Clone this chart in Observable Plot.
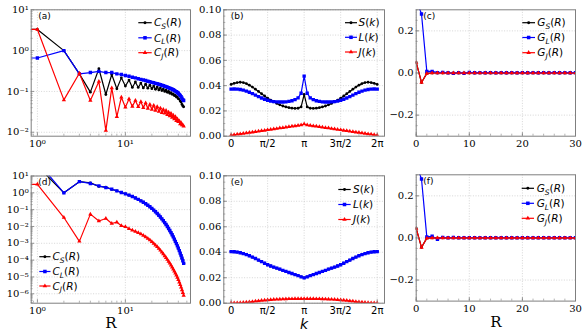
<!DOCTYPE html>
<html><head><meta charset="utf-8">
<script src="https://cdn.jsdelivr.net/npm/d3@7"></script>
<script src="https://cdn.jsdelivr.net/npm/@observablehq/plot@0.6"></script>
<style>
body{margin:0;background:#fff}
#wrap{position:relative;width:586px;height:334px;overflow:hidden;background:#fff}
#wrap > svg{position:absolute;left:0;top:0}
</style></head>
<body><div id="wrap"></div>
<script>
// ---------- data ----------
const R = [0,1,2,3,4,5,6,7,8,9,10,11,12,13,14,15,16,17,18,19,20,21,22,23,24,25,26,27,28,29,30,31,32,33,34,35,36,37,38,39,40,41,42,43,44,45,46];

// panel (a)
const CS_a = [3.3,3.3,1.0,0.27,0.096,0.36,0.084,0.26,0.116,0.215,0.135,0.19,0.125,0.17,0.125,0.16,0.122,0.15,0.12,0.142,0.117,0.135,0.113,0.128,0.109,0.121,0.105,0.114,0.1,0.107,0.095,0.1,0.09,0.093,0.085,0.087,0.079,0.08,0.073,0.073,0.066,0.065,0.058,0.055,0.048,0.044,0.042];
const CL_a = [0.66,0.66,1.0,0.27,0.29,0.31,0.29,0.29,0.27,0.26,0.245,0.235,0.222,0.215,0.205,0.198,0.19,0.185,0.178,0.173,0.167,0.163,0.158,0.154,0.15,0.146,0.142,0.138,0.134,0.131,0.127,0.124,0.12,0.117,0.113,0.11,0.106,0.102,0.098,0.094,0.09,0.085,0.08,0.074,0.068,0.063,0.06];
const CJ_a = [3.3,3.3,0.062,0.28,0.06,0.175,0.011,0.122,0.024,0.072,0.041,0.065,0.043,0.06,0.042,0.056,0.04,0.052,0.038,0.048,0.036,0.045,0.034,0.042,0.032,0.039,0.03,0.036,0.029,0.034,0.027,0.031,0.025,0.029,0.023,0.026,0.021,0.024,0.019,0.021,0.018,0.019,0.016,0.017,0.015,0.015,0.014];

// panel (d)
const CS_d = [40,40,1.0,4.6,3.9,2.4,2.2,1.6,1.32,1.05,0.871,0.724,0.603,0.495,0.407,0.335,0.275,0.224,0.182,0.148,0.119,0.0944,0.0746,0.0589,0.0462,0.0363,0.0282,0.0219,0.0169,0.013,0.01,0.00759,0.00573,0.00431,0.00322,0.0024,0.00178,0.00131,0.000964,0.000705,0.000513,0.000367,0.000262,0.000186,0.000131,0.0000923,0.0000646];
const CL_d = [70,70,1.0,4.6,3.6,2.6,2.05,1.65,1.3,1.05,0.871,0.724,0.603,0.495,0.407,0.335,0.275,0.224,0.182,0.148,0.119,0.0944,0.0746,0.0589,0.0462,0.0363,0.0282,0.0219,0.0169,0.013,0.01,0.00759,0.00573,0.00431,0.00322,0.0024,0.00178,0.00131,0.000964,0.000705,0.000513,0.000367,0.000262,0.000186,0.000131,0.0000923,0.0000646];
const CJ_d = [3.2,3.2,0.034,0.0013,0.054,0.021,0.03,0.015,0.018,0.011,0.0095,0.00724,0.00603,0.00501,0.00427,0.00355,0.00295,0.0024,0.00195,0.00155,0.00123,0.000977,0.000776,0.000617,0.00049,0.00038,0.000295,0.000229,0.000178,0.000138,0.000107,0.0000832,0.0000646,0.0000501,0.000038,0.0000288,0.0000219,0.0000166,0.0000126,0.00000933,0.00000692,0.0000049,0.00000347,0.0000024,0.00000166,0.00000115,0.000000794];

// panel (c)
const GS_c = [0.05,-0.045,-0.002,0,0,0,0,0,0,0,0,0,0,0,0,0,0,0,0,0,0,0,0,0,0,0,0,0,0,0,0,0,0,0,0,0,0,0,0,0,0,0,0,0,0,0,0];
const GL_c = [0.35,0.28,0.008,0.008,0.002,0.003,0.001,-0.002,0.002,-0.002,0.003,0.001,0.002,0.001,0.002,0.001,0.002,0.001,0.002,0.001,0.002,0.001,0.002,0.001,0.002,0.001,0.002,0.001,0.002,0.001,0.002,0.001,0.001,0.001,0.001,0.001,0.001,0.001,0.001,0.001,0.001,0.001,0.001,0.001,0.001,0.001,0.001];
const GJ_c = [0.05,-0.045,-0.002,0,0,0,0,0,0,0,0,0,0,0,0,0,0,0,0,0,0,0,0,0,0,0,0,0,0,0,0,0,0,0,0,0,0,0,0,0,0,0,0,0,0,0,0];

// panel (f)
const GS_f = [0.045,-0.045,-0.001,0,0,0,0,0,0,0,0,0,0,0,0,0,0,0,0,0,0,0,0,0,0,0,0,0,0,0,0,0,0,0,0,0,0,0,0,0,0,0,0,0,0,0,0];
const GL_f = [0.35,0.28,0.005,0.008,-0.006,0.003,0.001,0.002,0.001,0.001,0.001,0.001,0.001,0.001,0.001,0.001,0.001,0.001,0.001,0.001,0.001,0.001,0.001,0.001,0.001,0.001,0.001,0.001,0.001,0.001,0.001,0.001,0.001,0.001,0.001,0.001,0.001,0.001,0.001,0.001,0.001,0.001,0.001,0.001,0.001,0.001,0.001];
const GJ_f = [0.045,-0.045,-0.001,0,0,0,0,0,0,0,0,0,0,0,0,0,0,0,0,0,0,0,0,0,0,0,0,0,0,0,0,0,0,0,0,0,0,0,0,0,0,0,0,0,0,0,0];

// k grid (radians)
const K = [0,0.1309,0.2618,0.3927,0.5236,0.6545,0.7854,0.9163,1.0472,1.1781,1.309,1.4399,1.5708,1.7017,1.8326,1.9635,2.0944,2.2253,2.3562,2.4871,2.618,2.7489,2.8798,3.0107,3.1416,3.2725,3.4034,3.5343,3.6652,3.7961,3.927,4.0579,4.1888,4.3197,4.4506,4.5815,4.7124,4.8433,4.9742,5.1051,5.236,5.3669,5.4978,5.6287,5.7596,5.8905,6.0214,6.1523,6.2832];

// panel (b)
const S_b = [0.041,0.0418,0.0424,0.0427,0.0424,0.0416,0.0404,0.0389,0.0372,0.0354,0.0336,0.0318,0.0301,0.0286,0.0272,0.0259,0.0248,0.0239,0.0232,0.0226,0.0222,0.022,0.0221,0.0232,0.033,0.0232,0.0221,0.022,0.0222,0.0226,0.0232,0.0239,0.0248,0.0259,0.0272,0.0286,0.0301,0.0318,0.0336,0.0354,0.0372,0.0389,0.0404,0.0416,0.0424,0.0427,0.0424,0.0418,0.041];
const L_b = [0.0372,0.0373,0.0372,0.0369,0.0364,0.0357,0.0348,0.0337,0.0325,0.0313,0.0302,0.0292,0.0284,0.0278,0.0274,0.0272,0.0271,0.0271,0.0272,0.0275,0.028,0.0289,0.0303,0.034,0.0475,0.034,0.0303,0.0289,0.028,0.0275,0.0272,0.0271,0.0271,0.0272,0.0274,0.0278,0.0284,0.0292,0.0302,0.0313,0.0325,0.0337,0.0348,0.0357,0.0364,0.0369,0.0372,0.0373,0.0372];
const J_b = [0.0008,0.0011,0.0015,0.0018,0.0022,0.0025,0.0029,0.0032,0.0036,0.0039,0.0043,0.0046,0.005,0.0053,0.0057,0.006,0.0064,0.0067,0.0071,0.0074,0.0078,0.0081,0.0085,0.0088,0.0096,0.0088,0.0085,0.0081,0.0078,0.0074,0.0071,0.0067,0.0064,0.006,0.0057,0.0053,0.005,0.0046,0.0043,0.0039,0.0036,0.0032,0.0029,0.0025,0.0022,0.0018,0.0015,0.0011,0.0008];

// panel (e)
const S_e = [0.0405,0.0404,0.0401,0.0396,0.0389,0.0381,0.0372,0.0362,0.0351,0.0338,0.0326,0.0314,0.0302,0.0292,0.0283,0.0275,0.0267,0.0258,0.025,0.0241,0.0233,0.0224,0.0216,0.0207,0.0199,0.0207,0.0216,0.0224,0.0233,0.0241,0.025,0.0258,0.0267,0.0275,0.0283,0.0292,0.0302,0.0314,0.0326,0.0338,0.0351,0.0362,0.0372,0.0381,0.0389,0.0396,0.0401,0.0404,0.0405];
const L_e = [0.0405,0.0404,0.0401,0.0396,0.0389,0.0381,0.0372,0.0362,0.0351,0.0338,0.0326,0.0314,0.0302,0.0292,0.0283,0.0275,0.0267,0.0258,0.025,0.0241,0.0233,0.0224,0.0216,0.0207,0.0199,0.0207,0.0216,0.0224,0.0233,0.0241,0.025,0.0258,0.0267,0.0275,0.0283,0.0292,0.0302,0.0314,0.0326,0.0338,0.0351,0.0362,0.0372,0.0381,0.0389,0.0396,0.0401,0.0404,0.0405];
const J_e = [0.0001,0.0001,0.0002,0.0003,0.0005,0.0007,0.0009,0.0012,0.0015,0.0018,0.0021,0.0023,0.0025,0.0027,0.0029,0.003,0.0031,0.0032,0.0033,0.0034,0.0034,0.0035,0.0035,0.0035,0.0035,0.0035,0.0035,0.0035,0.0034,0.0034,0.0033,0.0032,0.0031,0.003,0.0029,0.0027,0.0025,0.0023,0.0021,0.0018,0.0015,0.0012,0.0009,0.0007,0.0005,0.0003,0.0002,0.0001,0.0001];

// tick values / labels
const kTickValues = [0, Math.PI/2, Math.PI, 3*Math.PI/2, 2*Math.PI];
const kTickLabels = ["0", "π/2", "π", "3π/2", "2π"];
const kMinor = [Math.PI/4, 3*Math.PI/4, 5*Math.PI/4, 7*Math.PI/4];
const logXMajor = [1, 10];
const logYMajorA = [0.01, 0.1, 1, 10];
const logYMajorD = [1e-6, 1e-5, 1e-4, 1e-3, 1e-2, 1e-1, 1, 10];
const linYMajorB = [0, 0.02, 0.04, 0.06, 0.08, 0.10];
const linYMajorC = [-0.2, 0, 0.2];
const linXMajorC = [0, 10, 20, 30];

const legendC = [{main:"C",sub:"S",arg:"R"},{main:"C",sub:"L",arg:"R"},{main:"C",sub:"J",arg:"R"}];
const legendK = [{main:"S",sub:"",arg:"k"},{main:"L",sub:"",arg:"k"},{main:"J",sub:"",arg:"k"}];
const legendG = [{main:"G",sub:"S",arg:"R"},{main:"G",sub:"L",arg:"R"},{main:"G",sub:"J",arg:"R"}];

// ---------- styling ----------
const W = 586, H = 334;
const FRAME = "#7f7f7f", GRID = "#c4c4c4";
const COLORS = ["#000000", "#0000ff", "#ff0000"];
const SYMBOLS = ["circle", "square", "triangle"];
const RADII = [1.4, 1.9, 1.6];

const supMap = {"-":"⁻","0":"⁰","1":"¹","2":"²","3":"³","4":"⁴","5":"⁵","6":"⁶","7":"⁷","8":"⁸","9":"⁹"};
const logFmt = d => "10" + String(Math.round(Math.log10(d))).split("").map(c => supMap[c]).join("");
function logMinor(lo, hi) {
  const out = [];
  for (let e = -8; e <= 2; e++) for (let m = 2; m <= 9; m++) { const v = m * Math.pow(10, e); if (v > lo && v < hi) out.push(v); }
  return out;
}
function linMinor(lo, hi, step) {
  const out = []; const n0 = Math.ceil(lo / step - 1e-9), n1 = Math.floor(hi / step + 1e-9);
  for (let n = n0; n <= n1; n++) out.push(+(n * step).toFixed(6));
  return out;
}

function panel(cfg) {
  const [x0, x1, y0, y1] = cfg.frame;
  const iw = x1 - x0, ih = y1 - y0;
  const marks = [
    Plot.gridX(cfg.xMajor, {x: d => d, stroke: GRID, strokeOpacity: 1, strokeDasharray: "1,1.6", strokeWidth: 0.7}),
    Plot.gridY(cfg.yMajor, {y: d => d, stroke: GRID, strokeOpacity: 1, strokeDasharray: "1,1.6", strokeWidth: 0.7})
  ];
  cfg.series.forEach((ys, j) => {
    const xs = cfg.xs;
    marks.push(Plot.line(ys, {x: xs, y: ys, stroke: COLORS[j], strokeWidth: 1.2, clip: true}));
    marks.push(Plot.dot(ys, {x: xs, y: ys, fill: COLORS[j], stroke: "none", symbol: SYMBOLS[j], r: RADII[j], clip: true,
      filter: cfg.logX ? xs.map(v => v > 0) : xs.map(() => true)}));
  });
  marks.push(Plot.frame({stroke: FRAME, strokeWidth: 1}));
  marks.push(Plot.tickX(cfg.xMajor, {x: d => d, insetTop: ih - 3.5, stroke: FRAME, strokeWidth: 0.8}));
  marks.push(Plot.tickX(cfg.xMinor, {x: d => d, insetTop: ih - 2, stroke: FRAME, strokeWidth: 0.6}));
  marks.push(Plot.tickY(cfg.yMajor, {y: d => d, insetRight: iw - 3.5, stroke: FRAME, strokeWidth: 0.8}));
  marks.push(Plot.tickY(cfg.yMinor, {y: d => d, insetRight: iw - 2, stroke: FRAME, strokeWidth: 0.6}));
  marks.push(Plot.axisX(cfg.xMajor, {tickSize: 0, tickPadding: 3.5, tickFormat: cfg.xFmt, label: null,
    fontFamily: cfg.xFont || "DejaVu Serif", fontSize: 10}));
  marks.push(Plot.axisY(cfg.yMajor, {tickSize: 0, tickPadding: 2.5, tickFormat: cfg.yFmt, label: null,
    fontFamily: "DejaVu Serif", fontSize: 10}));
  marks.push(Plot.text([cfg.label], {text: d => d, frameAnchor: "top-left", dx: 7, dy: 6.5, textAnchor: "start",
    lineAnchor: "middle", fontFamily: "DejaVu Sans", fontSize: 9}));
  if (cfg.title) marks.push(Plot.text([cfg.title], {text: d => d, frameAnchor: "bottom", dy: cfg.titleDy, lineAnchor: "middle",
    fontFamily: cfg.titleFont, fontStyle: cfg.titleStyle, fontSize: cfg.titleSize}));
  const svg = Plot.plot({
    width: W, height: H,
    marginLeft: x0, marginRight: W - x1, marginTop: y0, marginBottom: H - y1,
    x: {type: cfg.xType, domain: cfg.xDomain, clamp: !!cfg.logX},
    y: {type: cfg.yType, domain: cfg.yDomain},
    style: {background: "transparent", fontFamily: "DejaVu Serif", fontSize: "10px", color: "#000", overflow: "visible"},
    marks
  });
  document.getElementById("wrap").appendChild(svg);
}

const kFmt = d => kTickLabels[kTickValues.indexOf(d)];
const f2 = d3.format(".2f"), f1 = d3.format(".1f");
const intFmt = d => String(d);
const logXDomain = [0.85, 55];

// (a)
panel({frame: [30.7, 190, 9.3, 135.7], xs: R, logX: true, xType: "log", yType: "log",
  xDomain: logXDomain, yDomain: [0.008, 10], series: [CS_a, CL_a, CJ_a],
  xMajor: logXMajor, xMinor: logMinor(0.85, 55), yMajor: logYMajorA, yMinor: logMinor(0.008, 10),
  xFmt: logFmt, yFmt: logFmt, label: "(a)"});
// (b)
panel({frame: [223.3, 384, 9.3, 135.7], xs: K, xType: "linear", yType: "linear",
  xDomain: [-0.314, 6.597], yDomain: [0, 0.1], series: [S_b, L_b, J_b],
  xMajor: kTickValues, xMinor: kMinor, yMajor: linYMajorB, yMinor: linMinor(0, 0.1, 0.005),
  xFmt: kFmt, xFont: "DejaVu Sans", yFmt: f2, label: "(b)"});
// (c)
panel({frame: [415.7, 575, 9.3, 135.7], xs: R, xType: "linear", yType: "linear",
  xDomain: [0, 30], yDomain: [-0.3, 0.3], series: [GS_c, GL_c, GJ_c],
  xMajor: linXMajorC, xMinor: linMinor(0, 30, 2), yMajor: linYMajorC, yMinor: linMinor(-0.3, 0.3, 0.05),
  xFmt: intFmt, yFmt: f1, label: "(c)"});
// (d)
panel({frame: [30.7, 190, 175.5, 302.7], xs: R, logX: true, xType: "log", yType: "log",
  xDomain: logXDomain, yDomain: [2.75e-7, 10], series: [CS_d, CL_d, CJ_d],
  xMajor: logXMajor, xMinor: logMinor(0.85, 55), yMajor: logYMajorD, yMinor: logMinor(2.75e-7, 10),
  xFmt: logFmt, yFmt: logFmt, label: "(d)", title: "R", titleFont: "DejaVu Serif", titleStyle: "normal",
  titleSize: 15, titleDy: 19.5});
// (e)
panel({frame: [223.3, 384, 175.3, 302.7], xs: K, xType: "linear", yType: "linear",
  xDomain: [-0.314, 6.597], yDomain: [0, 0.1], series: [S_e, L_e, J_e],
  xMajor: kTickValues, xMinor: kMinor, yMajor: linYMajorB, yMinor: linMinor(0, 0.1, 0.005),
  xFmt: kFmt, xFont: "DejaVu Sans", yFmt: f2, label: "(e)", title: "k", titleFont: "DejaVu Sans", titleStyle: "italic",
  titleSize: 14, titleDy: 21.5});
// (f)
panel({frame: [415.7, 575, 174.3, 300.6], xs: R, xType: "linear", yType: "linear",
  xDomain: [0, 30], yDomain: [-0.3, 0.3], series: [GS_f, GL_f, GJ_f],
  xMajor: linXMajorC, xMinor: linMinor(0, 30, 2), yMajor: linYMajorC, yMinor: linMinor(-0.3, 0.3, 0.05),
  xFmt: intFmt, yFmt: f1, label: "(f)", title: "R", titleFont: "DejaVu Serif", titleStyle: "normal",
  titleSize: 15, titleDy: 21});

// ---------- legends ----------
const ov = d3.select("#wrap").append("svg").attr("width", W).attr("height", H);
function legend(entries, lx0, lx1, tx, ys) {
  entries.forEach((e, i) => {
    const y = ys[i], c = COLORS[i];
    ov.append("line").attr("x1", lx0).attr("x2", lx1).attr("y1", y).attr("y2", y)
      .attr("stroke", c).attr("stroke-width", 1.2);
    const sym = [d3.symbolCircle, d3.symbolSquare, d3.symbolTriangle][i];
    ov.append("path").attr("d", d3.symbol().type(sym).size(Math.PI * RADII[i] * RADII[i] * 1.1)())
      .attr("transform", `translate(${(lx0 + lx1) / 2},${y})`).attr("fill", c);
    const t = ov.append("text").attr("x", tx).attr("y", y).attr("dy", "0.36em")
      .attr("font-family", "DejaVu Sans").attr("font-size", 10.5).attr("fill", "#000");
    t.append("tspan").attr("font-style", "italic").text(e.main);
    if (e.sub) t.append("tspan").attr("font-style", "italic").attr("font-size", 7.5).attr("dy", 2.6).text(e.sub);
    t.append("tspan").attr("dy", e.sub ? -2.6 : 0).text("(");
    t.append("tspan").attr("font-style", "italic").text(e.arg);
    t.append("tspan").text(")");
  });
}
legend(legendC, 138.3, 151.7, 154, [22.7, 37.8, 52.7]);
legend(legendK, 345, 357, 358.5, [22.7, 37.3, 52]);
legend(legendG, 522.3, 535, 537.3, [22.7, 37.5, 52.7]);
legend(legendC, 39.3, 50.5, 52.5, [256.7, 271.5, 286]);
legend(legendK, 338.3, 350.7, 353, [189.5, 204.5, 219.5]);
legend(legendG, 521.7, 534, 536.7, [188.3, 203.3, 218.3]);
</script>
</body></html>
